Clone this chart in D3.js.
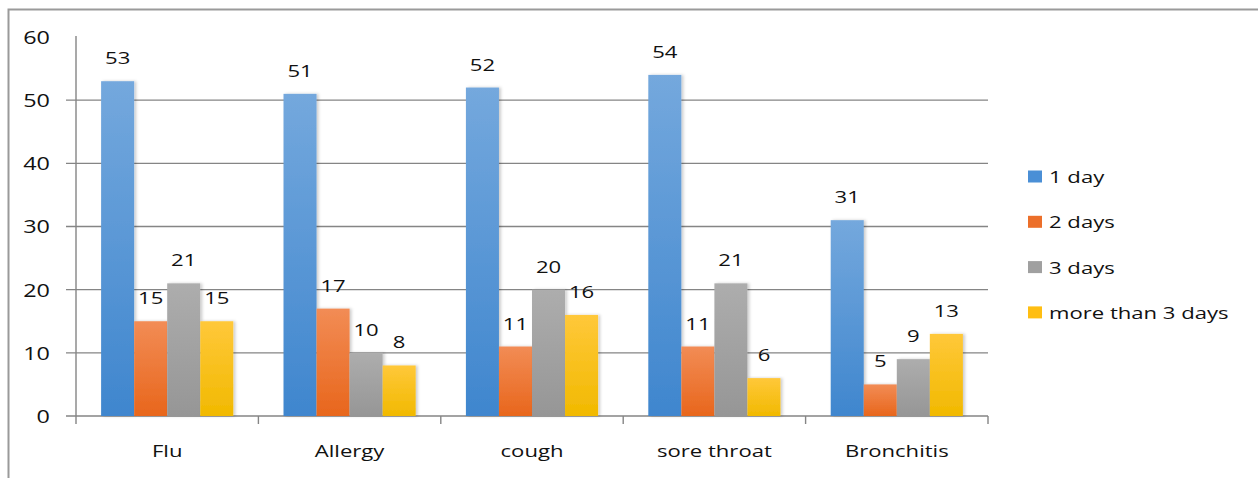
<!DOCTYPE html>
<html>
<head>
<meta charset="utf-8">
<script src="https://cdn.jsdelivr.net/npm/d3@7"></script>
<style>
  html, body { margin: 0; padding: 0; background: #fff; }
  svg { display: block; font-family: "Open Sans", "Noto Sans", sans-serif; }
</style>
</head>
<body>
<svg id="chart" width="1258" height="478"></svg>
<script>
// Duration of symptoms by illness
const categories = ["Flu", "Allergy", "cough", "sore throat", "Bronchitis"];
const seriesNames = ["1 day", "2 days", "3 days", "more than 3 days"];
const oneDay = [53, 51, 52, 54, 31];
const twoDays = [15, 17, 11, 11, 5];
const threeDays = [21, 10, 20, 21, 9];
const moreThanThree = [15, 8, 16, 6, 13];
const yTicks = [0, 10, 20, 30, 40, 50, 60];

const seriesValues = [oneDay, twoDays, threeDays, moreThanThree];
const colors = [
  { top: "#74a8dd", bottom: "#3f86ce", key: "#4a8fd6" },
  { top: "#f28c55", bottom: "#e8661c", key: "#ec6f2a" },
  { top: "#adadad", bottom: "#969696", key: "#a0a0a0" },
  { top: "#ffc83a", bottom: "#f1b900", key: "#ffbe12" }
];

// wide lettering: text is stretched horizontally
const SX = 1.3;
const textColor = "#111";

const svg = d3.select("#chart");
const defs = svg.append("defs");

colors.forEach((c, i) => {
  const g = defs.append("linearGradient")
    .attr("id", "grad" + i).attr("x1", 0).attr("y1", 0).attr("x2", 0).attr("y2", 1);
  g.append("stop").attr("offset", "0%").attr("stop-color", c.top);
  g.append("stop").attr("offset", "100%").attr("stop-color", c.bottom);
});

const shadow = defs.append("filter").attr("id", "shadow")
  .attr("x", "-20%").attr("y", "-5%").attr("width", "150%").attr("height", "115%");
shadow.append("feDropShadow").attr("dx", 2).attr("dy", 0).attr("stdDeviation", 1.6)
  .attr("flood-color", "#000").attr("flood-opacity", 0.2);

// Outer frame
svg.append("path")
  .attr("d", "M8.5,478 V9.5 H1260")
  .attr("fill", "none").attr("stroke", "#9a9a9a").attr("stroke-width", 2);

const plotLeft = 76, plotRight = 988, plotTop = 37, plotBottom = 416;

const x0 = d3.scaleBand().domain(categories).range([plotLeft, plotRight]).paddingInner(0).paddingOuter(0);
const x1 = d3.scaleBand().domain(seriesNames).range([0, x0.bandwidth()]).paddingInner(0).paddingOuter(0.76);
const y = d3.scaleLinear().domain([0, 60]).range([plotBottom, plotTop]);

// Gridlines (0 to 50)
svg.append("g").selectAll("line")
  .data(yTicks.filter(t => t < 60))
  .join("line")
  .attr("x1", plotLeft - 10).attr("x2", plotRight)
  .attr("y1", d => y(d)).attr("y2", d => y(d))
  .attr("stroke", "#858585").attr("stroke-width", 1.4);

// Y axis
const yAxis = svg.append("g").attr("transform", `translate(${plotLeft},0)`)
  .call(d3.axisLeft(y).tickValues(yTicks).tickSize(0));
yAxis.select(".domain").remove();
yAxis.selectAll("text")
  .attr("x", null).attr("dy", "0.36em")
  .attr("transform", `translate(-26,0) scale(${SX},1)`)
  .attr("font-size", 18).attr("fill", textColor)
  .attr("font-family", "\"Open Sans\", sans-serif");
svg.append("line").attr("x1", plotLeft).attr("x2", plotLeft).attr("y1", plotTop - 1).attr("y2", plotBottom + 8)
  .attr("stroke", "#858585").attr("stroke-width", 1.4);

// X axis
const xAxis = svg.append("g").attr("transform", `translate(0,${plotBottom})`)
  .call(d3.axisBottom(x0).tickSize(0));
xAxis.select(".domain").remove();
xAxis.selectAll("text")
  .attr("y", null).attr("dy", null)
  .attr("transform", `translate(0,41) scale(${SX},1)`)
  .attr("font-size", 17).attr("fill", textColor)
  .attr("font-family", "\"Open Sans\", sans-serif");
const boundaries = categories.map(c => x0(c)).concat([x0(categories[categories.length - 1]) + x0.bandwidth()]);
svg.append("g").selectAll("line").data(boundaries.slice(1)).join("line")
  .attr("x1", d => d).attr("x2", d => d).attr("y1", plotBottom).attr("y2", plotBottom + 8)
  .attr("stroke", "#858585").attr("stroke-width", 1.4);

// Bars
const rows = categories.map((c, ci) => ({
  category: c,
  values: seriesNames.map((s, si) => ({ series: s, si, value: seriesValues[si][ci] }))
}));

const groups = svg.append("g").selectAll("g").data(rows).join("g")
  .attr("transform", d => `translate(${x0(d.category)},0)`);

groups.selectAll("rect").data(d => d.values).join("rect")
  .attr("x", d => x1(d.series))
  .attr("y", d => y(d.value))
  .attr("width", x1.bandwidth())
  .attr("height", d => y(0) - y(d.value))
  .attr("fill", d => `url(#grad${d.si})`)
  .attr("filter", "url(#shadow)");

groups.selectAll("text").data(d => d.values).join("text")
  .attr("transform", d => `translate(${x1(d.series) + x1.bandwidth() / 2},${y(d.value) - 17}) scale(${SX},1)`)
  .attr("text-anchor", "middle")
  .attr("font-size", 17)
  .attr("fill", textColor)
  .text(d => d.value);

// Legend
const legend = svg.append("g").selectAll("g").data(seriesNames).join("g")
  .attr("transform", (d, i) => `translate(1028,${177 + i * 45.3})`);
legend.append("rect").attr("x", 0).attr("y", -6.5).attr("width", 14).attr("height", 12)
  .attr("fill", (d, i) => colors[i].key);
legend.append("text")
  .attr("transform", `translate(21,0) scale(${SX},1)`)
  .attr("dy", "0.35em")
  .attr("font-size", 17).attr("fill", textColor).text(d => d);
</script>
</body>
</html>
